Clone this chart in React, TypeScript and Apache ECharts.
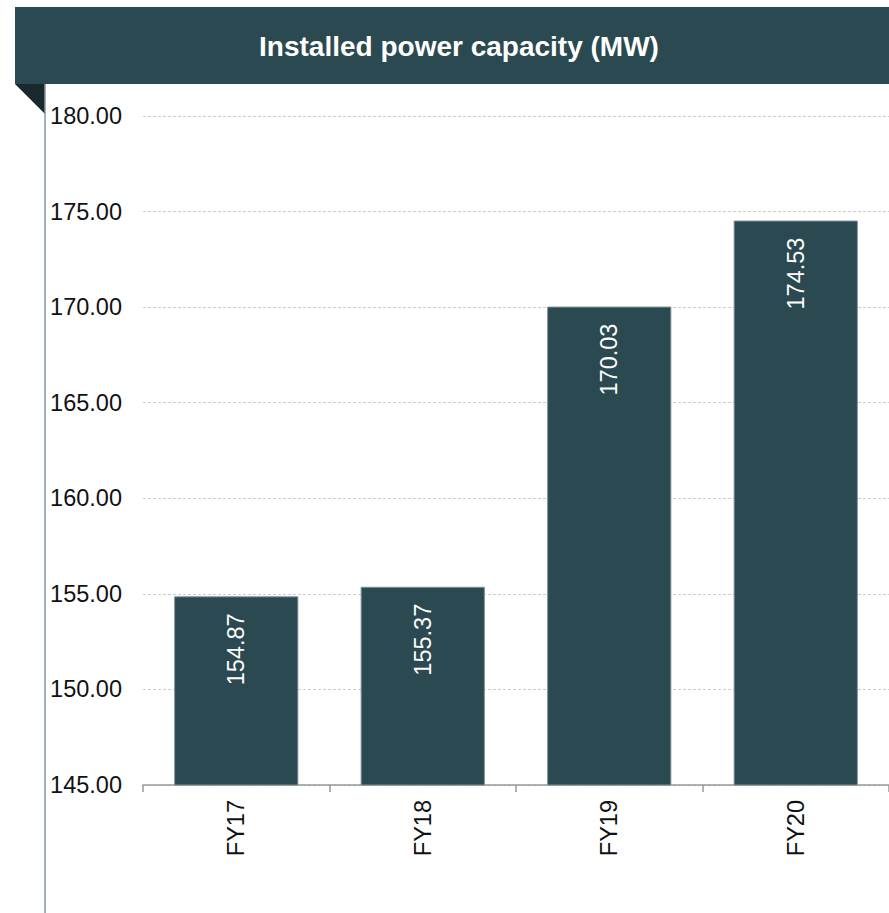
import React, { useEffect, useRef } from "react";
import * as echarts from "echarts";

const categories = ["FY17", "FY18", "FY19", "FY20"];
const capacity = [154.87, 155.37, 170.03, 174.53];
const titleText = "Installed power capacity (MW)";
const yMin = 145;
const yMax = 180;
const yStep = 5;

export default function App() {
  const ref = useRef<HTMLDivElement>(null);
  useEffect(() => {
    if (!ref.current) return;
    const chart = echarts.init(ref.current, undefined, { renderer: "svg" });
    const font = "'Liberation Sans', Arial, sans-serif";
    chart.setOption({
      animation: false,
      backgroundColor: "#ffffff",
      textStyle: { fontFamily: font },
      graphic: [
        { type: "rect", shape: { x: 15, y: 7, width: 880, height: 77 }, style: { fill: "#2a4950" }, z: 10 },
        {
          type: "text",
          x: 459,
          y: 46,
          style: { text: titleText, fill: "#ffffff", font: `bold 28px ${font}`, align: "center", verticalAlign: "middle" },
          z: 11,
        },
        { type: "polygon", shape: { points: [[15, 84], [45, 84], [45, 114]] }, style: { fill: "#182a2e" }, z: 10 },
        { type: "line", shape: { x1: 45, y1: 84, x2: 45, y2: 913 }, style: { stroke: "#8797a0", lineWidth: 1.5 }, z: 10 },
      ],
      grid: { left: 143, top: 116, bottom: 128, right: -4, containLabel: false },
      xAxis: {
        type: "category",
        data: categories,
        axisLine: { show: true, lineStyle: { color: "#999999", width: 1.5 } },
        axisTick: { show: true, length: 7, lineStyle: { color: "#999999", width: 1.5 } },
        axisLabel: { rotate: 90, margin: 15, fontSize: 23.5, color: "#111111", fontFamily: font },
      },
      yAxis: {
        type: "value",
        min: yMin,
        max: yMax,
        interval: yStep,
        axisLine: { show: false },
        axisTick: { show: false },
        axisLabel: { margin: 21, fontSize: 23.5, color: "#111111", fontFamily: font, formatter: (v: number) => v.toFixed(2) },
        splitLine: { show: true, lineStyle: { color: "#cccccc", width: 1, type: [3, 2] } },
      },
      series: [
        {
          type: "bar",
          data: capacity,
          barWidth: "66.6%",
          itemStyle: { color: "#2a4950", borderColor: "#7d9094", borderWidth: 1 },
          label: {
            show: true,
            position: "insideTop",
            rotate: 90,
            align: "right",
            verticalAlign: "middle",
            distance: 17,
            fontSize: 23.5,
            color: "#ffffff",
            fontFamily: font,
            formatter: (p: any) => Number(p.value).toFixed(2),
          },
        },
      ],
    });
    return () => chart.dispose();
  }, []);
  return <div ref={ref} style={{ position: "absolute", left: 0, top: 0, width: 889, height: 913 }} />;
}
